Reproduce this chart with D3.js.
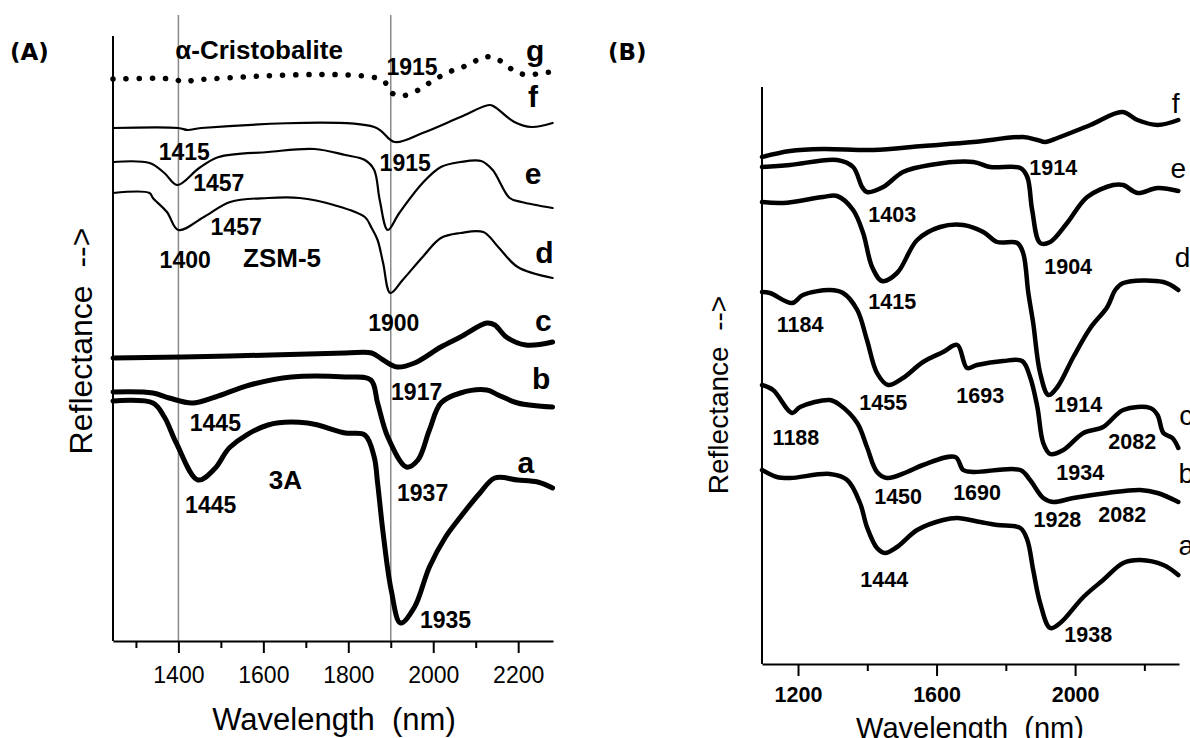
<!DOCTYPE html>
<html>
<head>
<meta charset="utf-8">
<script src="https://cdn.jsdelivr.net/npm/d3@7"></script>
<style>
  body { margin: 0; background: #fff; }
  text { font-family: "Liberation Sans", Arial, sans-serif; fill: #000; }
</style>
</head>
<body>
<svg width="1190" height="738"></svg>
<script>
// ---- panel A : [wavelength nm, reflectance (offset, a.u.)]
var A_g = [[1246,112.4],[1386,112.4],[1414,111.8],[1441,112.2],[1880,112.2],[1899,109.8],[1923,109],[1956,109.8],[1983,111.2],[2010,112.6],[2037,113.8],[2064,114.6],[2091,115.6],[2118,116.8],[2145,116.6],[2172,115.2],[2194,113.8],[2226,113.2],[2254,113.6],[2281,113.8]];
var A_f = [[1246,102.6],[1400,102.6],[1422,102.2],[1454,102.6],[1861,102.8],[1909,99.8],[1975,101.6],[2064,104.8],[2132,107.2],[2145,106.8],[2191,103.8],[2232,102.8],[2281,103.6]];
var A_e = [[1246,95.8],[1332,95.6],[1367,93.6],[1397,91.2],[1449,94.6],[1495,96.8],[1611,97.8],[1720,98.4],[1793,97.2],[1839,96.2],[1861,94.2],[1874,88.2],[1893,82.2],[1920,85.6],[1975,91.6],[2018,94.8],[2064,95.8],[2113,96],[2140,94.2],[2180,88.6],[2208,87.8],[2281,86.6]];
var A_d = [[1246,89.6],[1332,89.6],[1340,88.6],[1373,85.8],[1400,82.2],[1460,84.8],[1522,87.8],[1611,88.6],[1685,88.6],[1766,87.2],[1839,84.8],[1855,82.6],[1869,80.2],[1882,75.6],[1899,69.6],[1928,72.2],[1975,76.8],[2018,80.6],[2064,81.6],[2118,81.8],[2153,78.8],[2199,74.8],[2281,72.6]];
var A_c = [[1246,56.6],[1522,57],[1793,57.6],[1855,57.6],[1882,56.2],[1915,54.8],[1956,55.6],[2018,58.8],[2064,60.8],[2126,63.6],[2145,63.2],[2172,60.8],[2218,59.2],[2281,59.8]];
var A_b = [[1246,49.8],[1340,49.6],[1378,48.6],[1433,47.6],[1487,48.8],[1568,51.2],[1666,52.8],[1793,52.8],[1853,52.2],[1869,47.6],[1893,40.8],[1937,34.8],[1964,36.2],[1991,42.2],[2018,47.6],[2064,49.6],[2126,50.2],[2153,49.2],[2199,47.6],[2281,46.8]];
var A_a = [[1246,48],[1340,47.6],[1367,44.8],[1395,39.6],[1446,32.2],[1487,34.6],[1522,38.8],[1611,43.2],[1704,43.6],[1793,41.6],[1839,41.2],[1861,36.8],[1869,31.6],[1882,21.6],[1901,10.2],[1923,3.6],[1956,6.8],[1991,14.8],[2029,20.8],[2064,24.8],[2110,29.6],[2145,32.6],[2199,32.2],[2246,31.8],[2281,30.6]];

var A_peaks = [[1950,114.8,"1915"],[1414,97.8,"1415"],[1934,95.6,"1915"],[1495,91.6,"1457"],[1536,82.8,"1457"],[1416,76.2,"1400"],[1907,63.6,"1900"],[1961,49.8,"1917"],[1487,43.6,"1445"],[1975,29.6,"1937"],[1476,27.2,"1445"],[2029,4.2,"1935"]];
var A_letters = [[2240,118.2,"g"],[2235,109,"f"],[2235,93.6,"e"],[2262,77.8,"d"],[2259,64.2,"c"],[2254,52.6,"b"],[2218,35.8,"a"]];
var A_names = [[1590,118.2,"α-Cristobalite"],[1644,76.6,"ZSM-5"],[1652,32.2,"3A"]];
var A_guides = [1400, 1900];
var A_major = [1400, 1600, 1800, 2000, 2200];
var A_minor = [1300, 1500, 1700, 1900, 2100];

// ---- panel B
var B_f = [[1096,101.4],[1177,102.6],[1272,103],[1417,102.8],[1561,103.6],[1706,104.4],[1850,105.4],[1891,104.8],[1914,104.4],[1949,105.2],[2044,107.8],[2136,110.4],[2180,108.8],[2238,107.8],[2298,108.8]];
var B_e = [[1096,99.4],[1177,99.8],[1313,100.8],[1359,99.4],[1385,95.4],[1399,94.4],[1446,95.4],[1503,98.4],[1581,99.8],[1706,100.4],[1755,99.4],[1842,99.2],[1862,97.4],[1876,90.8],[1899,84.2],[1928,84.4],[1977,88.2],[2035,93.4],[2110,95.8],[2139,95.8],[2180,94.2],[2238,95.2],[2298,94.6]];
var B_d = [[1096,92.4],[1157,92.2],[1272,93.4],[1313,93.6],[1359,90.8],[1388,86.2],[1414,79.4],[1443,76.6],[1486,78.2],[1544,84.8],[1610,87.4],[1677,87.8],[1735,86.4],[1775,84.4],[1833,84.2],[1850,82.2],[1865,74.2],[1879,68.2],[1899,58.2],[1923,53.8],[1949,55.4],[1995,61.4],[2044,67.2],[2093,71.4],[2116,74.8],[2139,76.2],[2255,76.4],[2298,74.8]];
var B_c = [[1096,74.4],[1119,74.2],[1183,72.2],[1214,73.8],[1292,74.8],[1330,74.2],[1371,70.8],[1399,64.8],[1428,58.2],[1460,55.8],[1503,57.2],[1561,60.4],[1619,62.4],[1660,63.8],[1688,59.2],[1717,59.8],[1792,60.6],[1847,60.6],[1870,57.4],[1891,51.4],[1908,44.2],[1928,42],[1966,42.8],[2024,46.2],[2081,47.4],[2139,50.8],[2217,51.2],[2238,49.8],[2255,46.2],[2281,45.2],[2298,43.2]];
var B_b = [[1096,55.8],[1128,54.8],[1183,50.2],[1206,51.4],[1292,52.8],[1321,51.8],[1371,48.2],[1399,43.4],[1428,38.4],[1457,37.2],[1515,38.4],[1561,39.8],[1654,41.4],[1677,38.8],[1706,38.4],[1842,38.8],[1870,36.8],[1908,33.2],[1937,32.4],[1995,33.2],[2093,34.2],[2188,34.8],[2238,34.2],[2298,32.4]];
var B_a = [[1096,38.8],[1139,37.4],[1177,37.2],[1292,38],[1342,36.8],[1379,32.2],[1399,27.4],[1428,23.2],[1451,22.2],[1486,23.4],[1544,26.8],[1619,28.8],[1660,29.2],[1726,28.4],[1775,27.8],[1842,27.2],[1862,24.8],[1879,18.8],[1899,12.2],[1928,7.2],[1957,8.2],[2024,13.4],[2081,16.8],[2139,20.2],[2188,20.8],[2255,19.8],[2298,17.8]];

var B_peaks = [[1937,99.2,"1914"],[1472,89.8,"1403"],[1980,79.4,"1904"],[1472,72.4,"1415"],[1206,67.8,"1184"],[1446,52.2,"1455"],[1726,53.6,"1693"],[2009,51.8,"1914"],[1194,45.2,"1188"],[2165,44.4,"2082"],[2015,38.2,"1934"],[1489,33.4,"1450"],[1717,34.2,"1690"],[1949,28.8,"1928"],[2136,29.8,"2082"],[1449,16.8,"1444"],[2038,5.8,"1938"]];
var B_letters = [[2290,112.2,"f"],[2298,99.2,"e"],[2310,81.4,"d"],[2321,49.8,"c"],[2321,38.2,"b"],[2321,23.8,"a"]];
var B_major = [1200, 1600, 2000];
var B_minor = [1400, 1800, 2200];

var svg = d3.select("svg");

var xA = d3.scaleLinear().domain([1246, 2282]).range([113, 553]);
var yA = d3.scaleLinear().domain([0, 121]).range([641, 36]);
var xB = d3.scaleLinear().domain([1096, 2300]).range([762, 1179]);
var yB = d3.scaleLinear().domain([0, 115.4]).range([664, 87]);

function drawCurve(x, y, data, width, dotted) {
  var line = d3.line()
    .x(d => x(d[0]))
    .y(d => y(d[1]))
    .curve(d3.curveCatmullRom.alpha(0.5));
  var p = svg.append("path")
    .attr("d", line(data))
    .attr("fill", "none")
    .attr("stroke", "#000")
    .attr("stroke-width", width)
    .attr("stroke-linejoin", "round")
    .attr("stroke-linecap", "round");
  if (dotted) p.attr("stroke-dasharray", "0.1,13").attr("stroke-width", 5.5);
}

function drawText(x, y, list, size, weight) {
  svg.append("g")
    .selectAll("text")
    .data(list)
    .enter()
    .append("text")
    .attr("x", d => x(d[0]))
    .attr("y", d => y(d[1]))
    .attr("text-anchor", "middle")
    .attr("dominant-baseline", "central")
    .attr("font-size", size)
    .attr("font-weight", weight)
    .text(d => d[2]);
}

function drawXAxis(x, yPos, major, minor, fontSize, weight, pad) {
  var gMin = svg.append("g").attr("transform", "translate(0," + yPos + ")")
    .call(d3.axisBottom(x).tickValues(minor).tickSize(7).tickSizeOuter(0).tickFormat(""));
  gMin.select(".domain").remove();
  gMin.selectAll("line").attr("stroke-width", 2);
  var g = svg.append("g").attr("transform", "translate(0," + yPos + ")")
    .call(d3.axisBottom(x).tickValues(major).tickSize(12).tickSizeOuter(0).tickPadding(pad).tickFormat(d3.format("d")));
  g.select(".domain").attr("stroke-width", 2);
  g.selectAll("line").attr("stroke-width", 2);
  g.selectAll("text")
    .attr("font-family", "Liberation Sans, Arial, sans-serif")
    .attr("font-size", fontSize)
    .attr("font-weight", weight)
    .attr("fill", "#000");
}

// ---------- panel A
A_guides.forEach(function(w) {
  svg.append("line")
    .attr("x1", xA(w)).attr("x2", xA(w))
    .attr("y1", 15).attr("y2", yA(0))
    .attr("stroke", "#8a8a8a").attr("stroke-width", 1.5);
});
svg.append("line")
  .attr("x1", xA.range()[0]).attr("x2", xA.range()[0])
  .attr("y1", yA.range()[1]).attr("y2", yA.range()[0])
  .attr("stroke", "#000").attr("stroke-width", 2);
drawXAxis(xA, yA(0), A_major, A_minor, 23, "normal", 14);

drawCurve(xA, yA, A_g, 5.5, true);
drawCurve(xA, yA, A_f, 2.2);
drawCurve(xA, yA, A_e, 2.2);
drawCurve(xA, yA, A_d, 2.2);
drawCurve(xA, yA, A_c, 5);
drawCurve(xA, yA, A_b, 5);
drawCurve(xA, yA, A_a, 5);

drawText(xA, yA, A_peaks, 23, "bold");
drawText(xA, yA, A_letters, 30, "bold");
drawText(xA, yA, A_names, 26, "bold");

svg.append("text")
  .attr("x", 334).attr("y", 730)
  .attr("text-anchor", "middle").attr("font-size", 31)
  .attr("xml:space", "preserve")
  .text("Wavelength  (nm)");
svg.append("text")
  .attr("transform", "translate(92,341) rotate(-90)")
  .attr("text-anchor", "middle").attr("font-size", 32)
  .attr("xml:space", "preserve")
  .text("Reflectance  -->");
svg.append("text")
  .attr("x", 10).attr("y", 60)
  .style("font-family", "DejaVu Sans, sans-serif")
  .attr("font-weight", "bold").attr("font-size", 23)
  .text("(A)");

// ---------- panel B
svg.append("line")
  .attr("x1", xB.range()[0]).attr("x2", xB.range()[0])
  .attr("y1", yB.range()[1]).attr("y2", yB.range()[0])
  .attr("stroke", "#000").attr("stroke-width", 2);
drawXAxis(xB, yB(0), B_major, B_minor, 21.5, "bold", 11);

[B_f, B_e, B_d, B_c, B_b, B_a].forEach(function(s) { drawCurve(xB, yB, s, 4.5); });

drawText(xB, yB, B_peaks, 21.5, "bold");
drawText(xB, yB, B_letters, 28, "normal");

svg.append("text")
  .attr("x", 970).attr("y", 738)
  .attr("text-anchor", "middle").attr("font-size", 29)
  .attr("xml:space", "preserve")
  .text("Wavelength  (nm)");
svg.append("text")
  .attr("transform", "translate(728,395) rotate(-90)")
  .attr("text-anchor", "middle").attr("font-size", 28)
  .attr("xml:space", "preserve")
  .text("Reflectance  -->");
svg.append("text")
  .attr("x", 608).attr("y", 60)
  .style("font-family", "DejaVu Sans, sans-serif")
  .attr("font-weight", "bold").attr("font-size", 23)
  .text("(B)");
</script>
</body>
</html>
